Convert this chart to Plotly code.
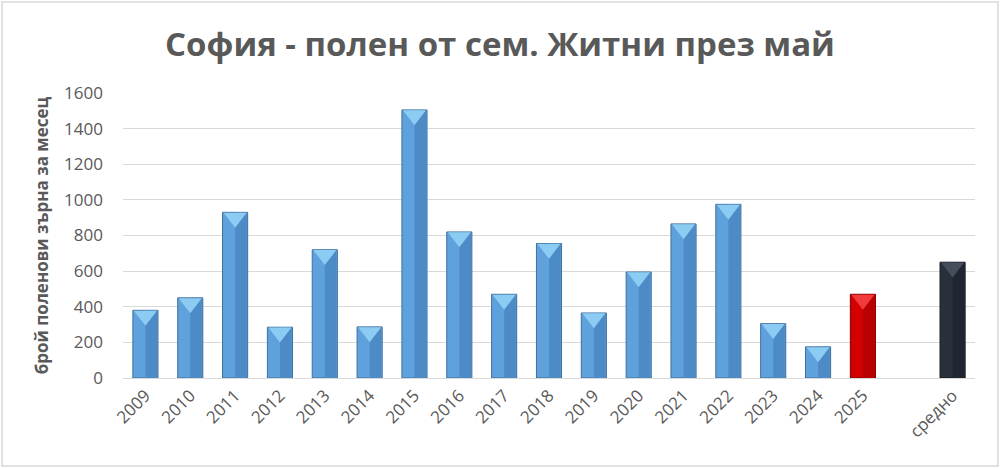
import plotly.graph_objects as go

years = ["2009", "2010", "2011", "2012", "2013", "2014", "2015", "2016", "2017",
         "2018", "2019", "2020", "2021", "2022", "2023", "2024", "2025", " ", "средно"]
values = [380, 450, 930, 285, 720, 287, 1505, 820, 470,
          755, 365, 595, 865, 975, 305, 175, 470, None, 650]
main_colors = ["#5FA1DD"] * 16 + ["#D40000", "#5FA1DD", "#28303C"]
dark_colors = ["#4D8BC7"] * 16 + ["#B80000", "#4D8BC7", "#1F2630"]
light_colors = ["#8CCBF2"] * 16 + ["#F23A3A", "#8CCBF2", "#444E5C"]
edge_colors = ["#3F6F9C"] * 16 + ["#7A0000", "#3F6F9C", "#161B23"]
y_ticks = [0, 200, 400, 600, 800, 1000, 1200, 1400, 1600]

title_text = "София - полен от сем. Житни през май"
y_title = "брой поленови зърна за месец"

fig = go.Figure()
fig.add_trace(go.Bar(
    x=years, y=values, width=0.56, offset=-0.28,
    marker=dict(color=main_colors, line=dict(color=edge_colors, width=1)),
    showlegend=False, hoverinfo="x+y",
))
fig.add_trace(go.Bar(
    x=years, y=values, width=0.26, offset=0.0,
    marker=dict(color=dark_colors, line=dict(width=0)),
    showlegend=False, hoverinfo="skip",
))
# top bevel facet (triangle just under the top edge of every bar)
bevel_y = [None if v is None else v - 30 for v in values]
fig.add_trace(go.Scatter(
    x=years, y=bevel_y, mode="markers",
    marker=dict(symbol="triangle-down", size=20, color=light_colors,
                line=dict(width=0)),
    showlegend=False, hoverinfo="skip", cliponaxis=False,
))

fig.update_layout(
    width=1000, height=468,
    barmode="overlay",
    paper_bgcolor="white", plot_bgcolor="white",
    margin=dict(l=123, r=25, t=93, b=90),
    title=dict(text="<b>" + title_text + "</b>", x=0.5, xanchor="center",
               y=0.905, yanchor="middle",
               font=dict(family="Open Sans", size=33, color="#595959")),
    font=dict(family="Open Sans", color="#595959"),
    xaxis=dict(type="category", tickangle=-45, range=[-0.5, len(years) - 0.5],
               autorange=False,
               tickfont=dict(size=17, color="#595959"),
               showline=True, linecolor="#D9D9D9", linewidth=1,
               showgrid=False, ticks=""),
    yaxis=dict(range=[0, 1600], tickvals=y_ticks, autorange=False,
               tickfont=dict(size=17, color="#595959"),
               showgrid=True, gridcolor="#D9D9D9", gridwidth=1,
               zeroline=False, ticks="", ticklabelstandoff=19,
               title=dict(text="<b>" + y_title + "</b>", standoff=11,
                          font=dict(size=17, color="#595959"))),
    shapes=[dict(type="rect", xref="paper", yref="paper",
                 x0=-121 / 852, x1=1 + 23 / 852, y0=-88 / 285, y1=1 + 91 / 285,
                 line=dict(color="#D9D9D9", width=1.5), layer="below")],
)

fig.write_html("out.html", config={"displayModeBar": False},
               post_script="document.body.style.margin='0';")
